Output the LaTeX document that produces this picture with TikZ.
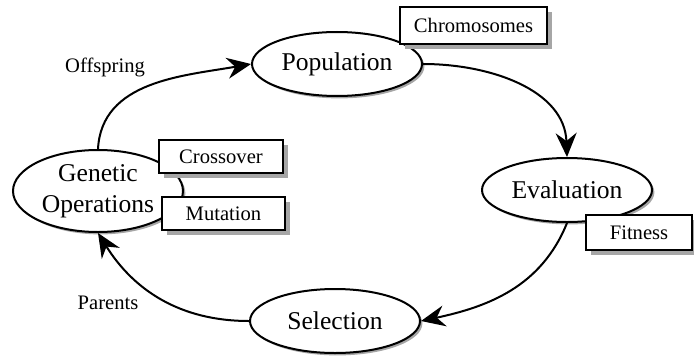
\documentclass[tikz,border=0pt]{standalone}
\usepackage{fontspec}
\setmainfont{Liberation Serif}
\usepackage{tikz}
\usetikzlibrary{positioning}
\usetikzlibrary{shapes.geometric}
\usetikzlibrary{arrows.meta,shadows}

\tikzset{
    stage/.style={draw, line width=1pt, ellipse, fill=white, inner sep=0pt,
        minimum width=85pt, minimum height=32pt, align=center,
        font=\fontsize{12.8}{15.5}\selectfont,
        drop shadow={shadow xshift=1.2pt, shadow yshift=-1.2pt, fill=gray!70, opacity=1}},
    tagbox/.style={draw, line width=1pt, rectangle, fill=white, inner sep=0pt,
        font=\fontsize{10.3}{12}\selectfont,
        drop shadow={shadow xshift=2.5pt, shadow yshift=-2.5pt, fill=gray!70, opacity=1}},
    flow/.style={line width=1pt, -{Stealth[length=12pt, width=10.5pt, inset=4pt]}},
    note/.style={font=\fontsize{10.3}{12}\selectfont}
}

\begin{document}
\begin{tikzpicture}[x=0.5pt, y=-0.5pt]
    \useasboundingbox (0,0) rectangle (694,358);

    % Main stages of the cycle
    \node[stage] (pop) at (337,64) {Population};
    \node[stage] (eval) at (567,190) {Evaluation};
    \node[stage] (sel) at (335,321) {Selection};
    \node[stage, minimum height=41pt] (gen) at (98,191) {Genetic\\Operations};

    % Attached boxes
    \node[tagbox, minimum width=73.5pt, minimum height=18.5pt] (chrom) at (473.5,25.5) {Chromosomes};
    \node[tagbox, minimum width=62pt, minimum height=16.5pt] (cross) at (221,156.5) {Crossover};
    \node[tagbox, minimum width=61.5pt, minimum height=16.5pt] (mut) at (223.5,213.5) {Mutation};
    \node[tagbox, minimum width=53pt, minimum height=17.5pt] (fit) at (639,232.5) {Fitness};

    % Cycle arrows
    \draw[flow] (gen.north) to[out=87, in=190] (pop.west);
    \draw[flow] (pop.east) to[out=0, in=92] (eval.north);
    \draw[flow] (eval.south) to[out=-112, in=12] (sel.east);
    \draw[flow] (sel.west) to[out=180, in=-58] (gen.south);

    % Arrow labels
    \node[note] (offs) at (105,67) {Offspring};
    \node[note] (par) at (108,303) {Parents};
\end{tikzpicture}
\end{document}
